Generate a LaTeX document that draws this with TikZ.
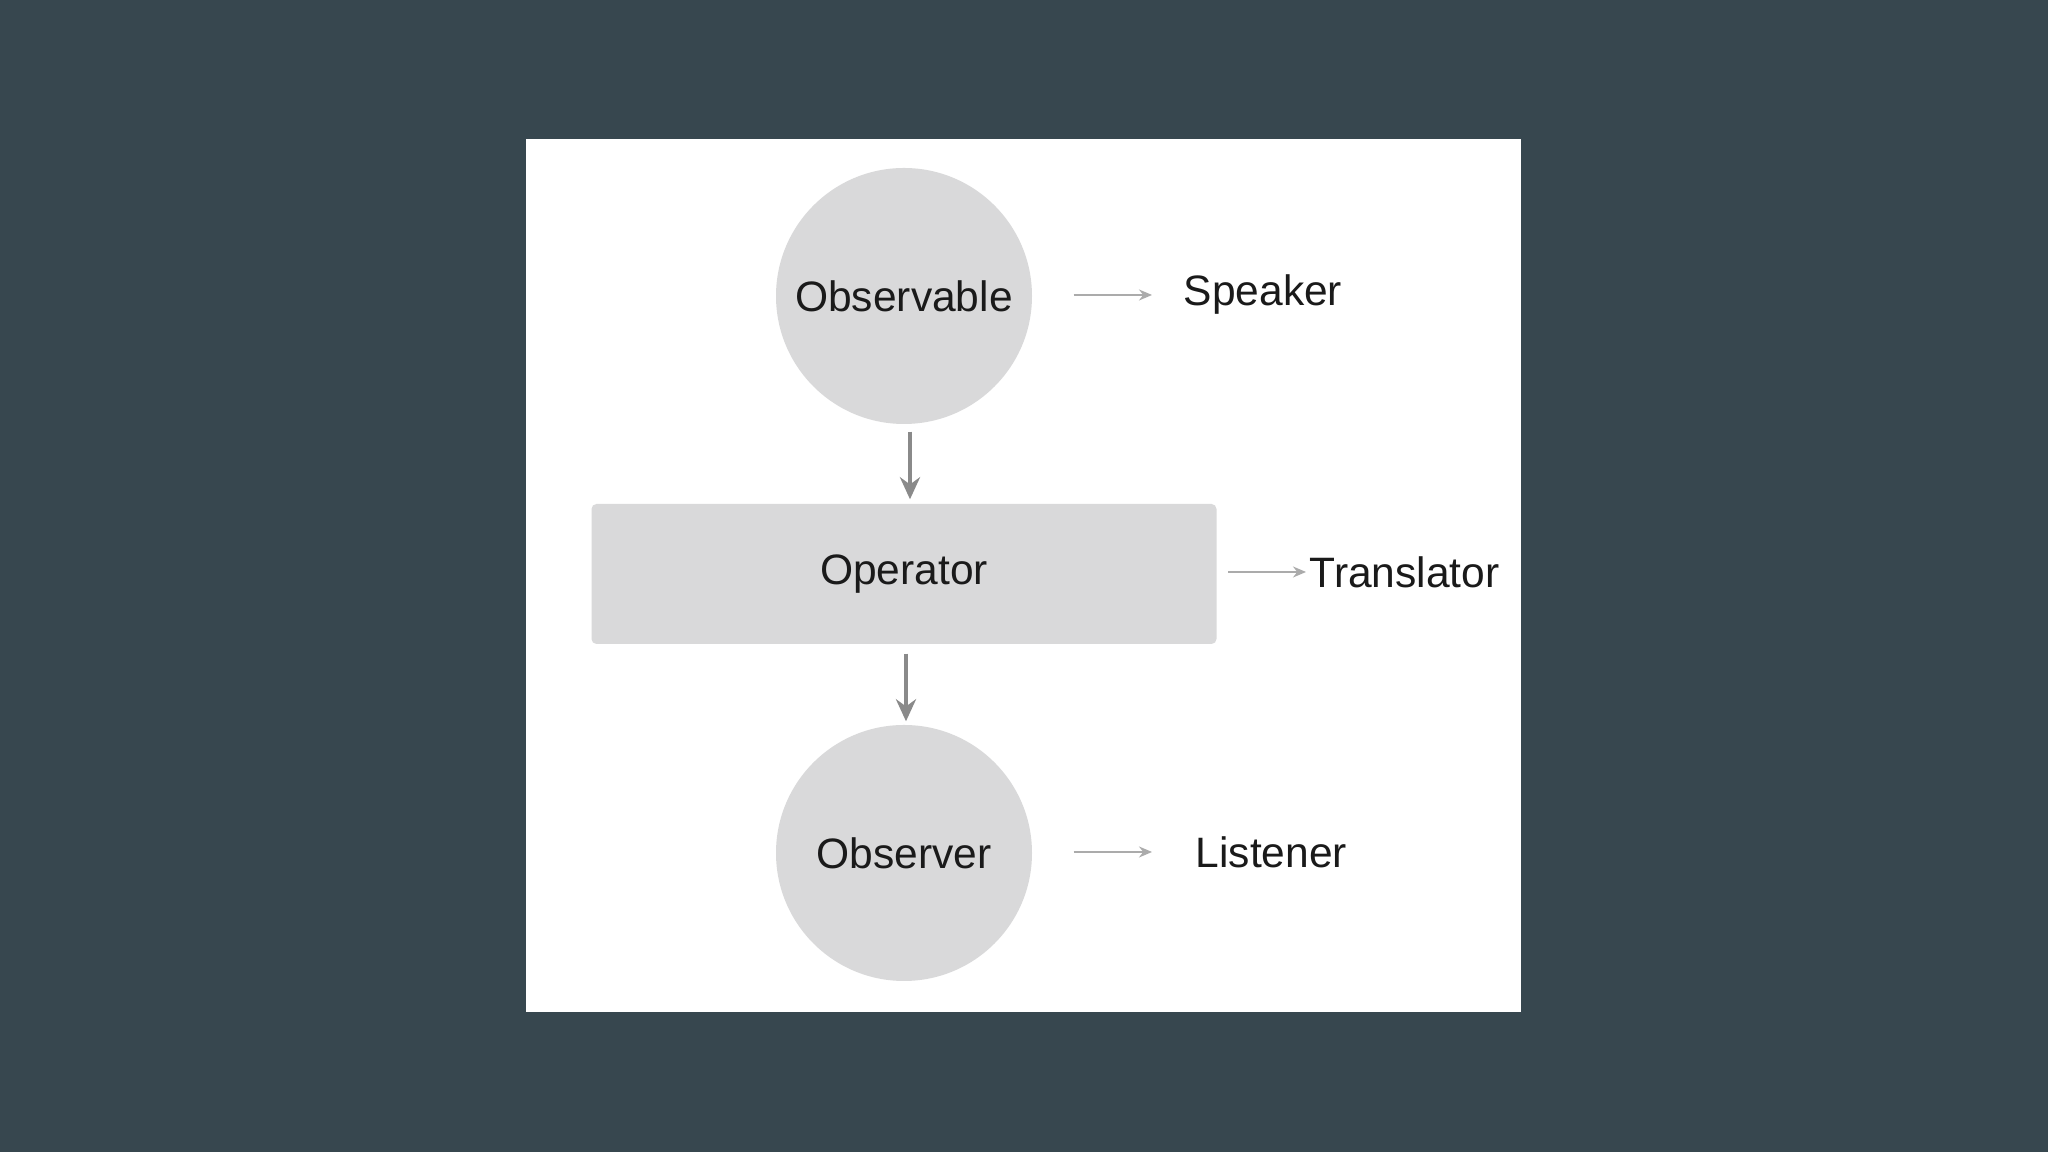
\documentclass[tikz,border=0pt]{standalone}
\usepackage{fontspec}
\setmainfont{Liberation Sans}
\usetikzlibrary{arrows.meta}
\usetikzlibrary{positioning}

\definecolor{slideBg}{HTML}{37474F}
\definecolor{shapeGray}{HTML}{D9D9DA}
\definecolor{arrowGray}{HTML}{8A8A8A}
\definecolor{thinGray}{HTML}{ABABAB}
\definecolor{textBlack}{HTML}{1A1A1A}

\begin{document}
\begin{tikzpicture}[
        font=\fontsize{12.1pt}{14pt}\selectfont,
        text=textBlack,
        circleNode/.style = {shape=circle,fill=shapeGray,minimum size=2.56cm,inner sep=0pt},
        boxNode/.style = {shape=rectangle,fill=shapeGray,rounded corners=0.5mm,minimum width=6.25cm,minimum height=1.40cm},
        roleNode/.style = {anchor=west,inner sep=0pt},
        flowArrow/.style = {draw=arrowGray,line width=1.2pt,-{Stealth[length=2.2mm,width=2.0mm]}},
        roleArrow/.style = {draw=thinGray,line width=0.5pt,-{Stealth[length=1.3mm,width=1.1mm]}}
        ]
        % background and panel
        \fill[slideBg] (0,0) rectangle (20.48,11.52);
        \fill[white] (5.26,1.40) rectangle (15.21,10.13);
        \useasboundingbox (0,0) rectangle (20.48,11.52);

        % main chain
        \node[circleNode] (observable) at (9.04,8.56) {Observable};
        \node[boxNode] (operator) at (9.04,5.78) {Operator};
        \node[circleNode] (observer) at (9.04,2.99) {Observer};

        % roles
        \node[roleNode] (speaker) at (11.83,8.57) {Speaker};
        \node[roleNode] (translator) at (13.09,5.80) {Translator};
        \node[roleNode] (listener) at (11.95,3.00) {Listener};

        \draw[flowArrow,shorten <=0.07cm,shorten >=0.04cm] ([xshift=0.06cm]observable.south) -- ([xshift=0.06cm]operator.north);
        \draw[flowArrow,shorten <=0.09cm,shorten >=0.03cm] ([xshift=0.02cm]operator.south) -- ([xshift=0.02cm]observer.north);

        \draw[roleArrow,shorten <=0.41cm,shorten >=0.31cm] (observable.east |- speaker.west) -- (speaker.west);
        \draw[roleArrow,shorten <=0.11cm,shorten >=0.03cm] (operator.east |- translator.west) -- (translator.west);
        \draw[roleArrow,shorten <=0.41cm,shorten >=0.43cm] (observer.east |- listener.west) -- (listener.west);
    \end{tikzpicture}
\end{document}
